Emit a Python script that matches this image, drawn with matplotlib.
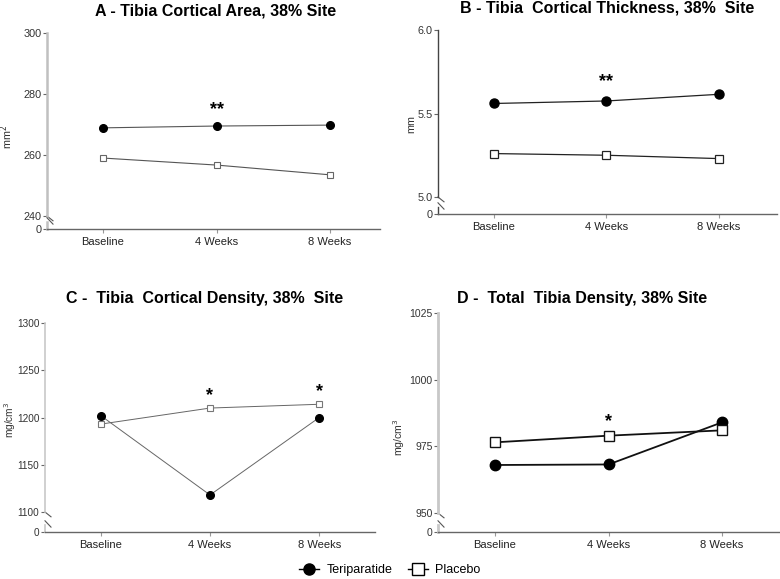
import matplotlib.pyplot as plt
from matplotlib.lines import Line2D

plt.rcParams['font.family'] = ['Liberation Sans', 'DejaVu Sans']

W, H = 780, 579

categories = ['Baseline', '4 Weeks', '8 Weeks']

area_teri = [268.9, 269.5, 269.8]
area_plac = [259.0, 256.7, 253.5]
area_stars = ['', '**', '']

thick_teri = [5.56, 5.575, 5.615]
thick_plac = [5.26, 5.25, 5.23]
thick_stars = ['', '**', '']

dens_teri = [1202, 1118, 1200]
dens_plac = [1193, 1210, 1214]
dens_stars = ['', '*', '*']

total_teri = [968.0, 968.2, 984.0]
total_plac = [976.5, 979.0, 981.0]
total_stars = ['', '*', '']


def px_axes(fig, left, right, top, bottom):
    """Add axes from pixel box (origin top-left)."""
    return fig.add_axes([left / W, 1 - bottom / H, (right - left) / W, (bottom - top) / H])


def panel(fig, box, zero_y, title, title_xy, ylabel, ylab_xy, ylim, yticks, ytl,
          teri, plac, stars, xlim, style):
    left, right, top, bottom = box
    ax = px_axes(fig, left, right, top, bottom)
    low = px_axes(fig, left, right, zero_y - 7, zero_y)
    fs = style['tick_fs']

    x = range(len(categories))
    ax.plot(x, teri, color=style['line'], lw=style['lw'], marker='o',
            ms=style['ms'], mfc='black', mec='black', zorder=3)
    ax.plot(x, plac, color=style['line'], lw=style['lw'], marker='s',
            ms=style['ms'] - 0.5, mfc='white', mec=style['sq'], mew=style['mew'], zorder=3)
    for i, s in enumerate(stars):
        if s:
            ax.annotate(s, (i, max(teri[i], plac[i])), xytext=(0, style['star_off']),
                        textcoords='offset points', ha='center', va='center',
                        fontsize=13, fontweight='bold')

    ax.set_xlim(*xlim)
    ax.set_ylim(*ylim)
    ax.set_yticks(yticks)
    ax.set_yticklabels(ytl)
    ax.set_xticks([])
    for sp in ['top', 'right', 'bottom']:
        ax.spines[sp].set_visible(False)
    ax.spines['left'].set_color(style['yspine'])
    ax.spines['left'].set_linewidth(style['yspine_lw'])
    ax.tick_params(axis='y', length=3, width=0.8, color='#666666', labelsize=fs,
                   labelcolor='#333333', pad=1)
    ax.set_ylabel(ylabel, fontsize=style['lab_fs'], color='#333333')
    ax.yaxis.set_label_coords(*ylab_xy)

    low.set_xlim(*xlim)
    low.set_ylim(0, 1)
    low.set_yticks([0])
    low.set_yticklabels(['0'])
    low.set_xticks(list(x))
    low.set_xticklabels(categories)
    for sp in ['top', 'right']:
        low.spines[sp].set_visible(False)
    low.spines['left'].set_color(style['yspine'])
    low.spines['left'].set_linewidth(style['yspine_lw'])
    low.spines['bottom'].set_color('#666666')
    low.spines['bottom'].set_linewidth(1.0)
    low.tick_params(axis='y', length=3, width=0.8, color='#666666', labelsize=fs,
                    labelcolor='#333333', pad=1)
    low.tick_params(axis='x', length=3, width=0.8, color='#999999', labelsize=8,
                    labelcolor='#222222', pad=3)
    low.patch.set_alpha(0)

    # axis break marks
    dx, dy = 6 / (right - left), 6 / (bottom - top)
    ax.plot([0, dx], [0, -dy * 0.8], transform=ax.transAxes, color='#555555',
            lw=0.8, clip_on=False)
    low.plot([0, dx], [1.6, 0.7], transform=low.transAxes, color='#555555',
             lw=0.8, clip_on=False)

    fig.text(title_xy[0] / W, 1 - title_xy[1] / H, title, ha='center', va='center',
             fontsize=11.5, fontweight='bold')
    return ax


fig = plt.figure(figsize=(W / 100, H / 100), dpi=100)

thin = dict(line='#555555', lw=0.8, ms=5.5, sq='#666666', mew=0.8,
            yspine='#c0c0c0', yspine_lw=1.8, star_off=12, tick_fs=7.8, lab_fs=7.8)
mid = dict(line='#222222', lw=0.9, ms=6.5, sq='#222222', mew=0.9,
           yspine='#444444', yspine_lw=1.0, star_off=14, tick_fs=7.8, lab_fs=7.8)
thin_c = dict(line='#666666', lw=0.7, ms=5.5, sq='#777777', mew=0.8,
              yspine='#c8c8c8', yspine_lw=1.2, star_off=9, tick_fs=7.2, lab_fs=7.3)
bold = dict(line='#111111', lw=1.3, ms=7.5, sq='#111111', mew=1.0,
            yspine='#c8c8c8', yspine_lw=2.0, star_off=10, tick_fs=7.5, lab_fs=7.6)

panel(fig, (47, 380, 33, 216), 229, 'A - Tibia Cortical Area, 38% Site', (216, 11),
      'mm$^2$', (-0.095, 0.43), (240, 300), [240, 260, 280, 300],
      ['240', '260', '280', '300'], area_teri, area_plac, area_stars,
      (-0.493, 2.44), thin)

panel(fig, (438, 777, 30, 197), 214, 'B - Tibia  Cortical Thickness, 38%  Site', (607, 8),
      'mm', (-0.065, 0.44), (5.0, 6.0), [5.0, 5.5, 6.0], ['5.0', '5.5', '6.0'],
      thick_teri, thick_plac, thick_stars, (-0.498, 2.516), mid)

panel(fig, (45, 375, 323, 512), 532, 'C -  Tibia  Cortical Density, 38%  Site', (205, 298),
      'mg/cm$^3$', (-0.083, 0.49), (1100, 1300), [1100, 1150, 1200, 1250, 1300],
      ['1100', '1150', '1200', '1250', '1300'], dens_teri, dens_plac, dens_stars,
      (-0.51, 2.51), thin_c)

panel(fig, (438, 780, 313, 513), 532, 'D -  Total  Tibia Density, 38% Site', (582, 298),
      'mg/cm$^3$', (-0.09, 0.38), (950, 1025), [950, 975, 1000, 1025],
      ['950', '975', '1000', '1025'], total_teri, total_plac, total_stars,
      (-0.502, 2.51), bold)

handles = [Line2D([0], [0], color='black', lw=1.0, marker='o', ms=8, mfc='black'),
           Line2D([0], [0], color='black', lw=1.0, marker='s', ms=8, mfc='white', mec='black')]
fig.legend(handles, ['Teriparatide', 'Placebo'], loc='center', ncol=2,
           bbox_to_anchor=(390 / W, 1 - 570 / H), frameon=False, fontsize=9,
           handlelength=1.6, columnspacing=1.2, handletextpad=0.6)

fig.savefig('out.png', dpi=100)
